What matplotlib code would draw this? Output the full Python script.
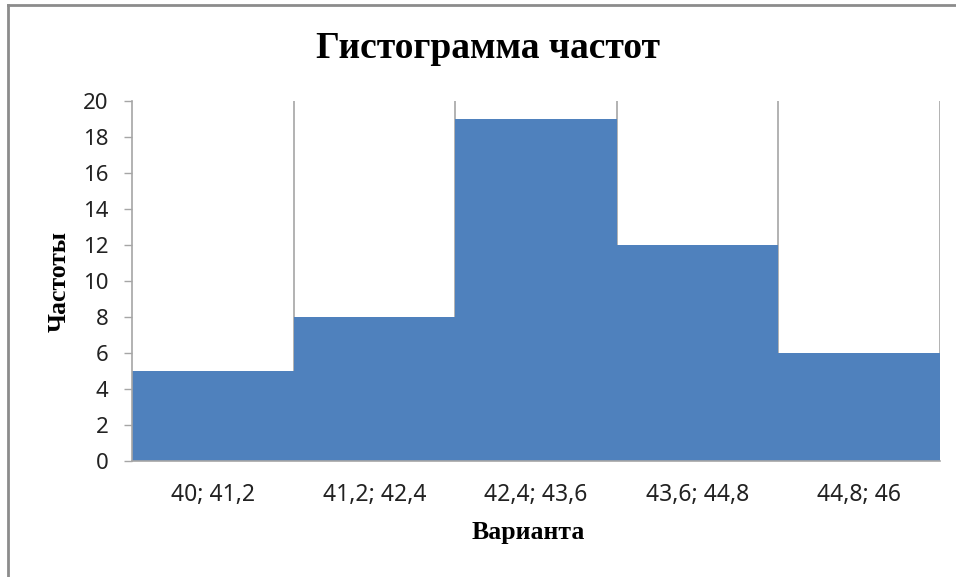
import matplotlib
matplotlib.use("Agg")
import matplotlib.pyplot as plt
from matplotlib.lines import Line2D

# data
intervals = ["40; 41,2", "41,2; 42,4", "42,4; 43,6", "43,6; 44,8", "44,8; 46"]
freqs = [5, 8, 19, 12, 6]
yticks = [0, 2, 4, 6, 8, 10, 12, 14, 16, 18, 20]

bar_color = "#4F81BD"
gray = "#A6A6A6"
serif = ["Liberation Serif", "DejaVu Serif"]
sans = ["Noto Sans", "DejaVu Sans"]

fig = plt.figure(figsize=(9.56, 5.77), dpi=100)
ax = fig.add_axes([132 / 956, 1 - 461 / 577, (940 - 132) / 956, (461 - 101) / 577])

pos = list(range(len(freqs)))
ax.bar(pos, freqs, width=1.0, color=bar_color, zorder=2)

ax.set_xlim(-0.5, len(freqs) - 0.5)
ax.set_ylim(0, 20)
ax.set_yticks(yticks)
ax.set_yticklabels([str(v) for v in yticks], family=sans, fontsize=16, color="#222222")
ax.set_xticks(pos)
ax.set_xticklabels(intervals, family=sans, fontsize=16.5, color="#222222")

# category boundaries as vertical gridlines
ax.set_xticks([p + 0.5 for p in pos], minor=True)
ax.grid(which="minor", axis="x", color=gray, linewidth=1.2, zorder=1)
ax.tick_params(axis="x", which="both", length=0, pad=16)
ax.tick_params(axis="y", length=6, width=1, color=gray, pad=11)

for s in ["top", "right"]:
    ax.spines[s].set_visible(False)
for s in ["left", "bottom"]:
    ax.spines[s].set_color(gray)
    ax.spines[s].set_linewidth(1.2)
    ax.spines[s].set_zorder(3)

fig.text(488 / 956, 1 - 48 / 577, "Гистограмма частот", family=serif, fontweight="bold",
         fontsize=27, ha="center", va="center")
fig.text(528 / 956, 1 - 533 / 577, "Варианта", family=serif, fontweight="bold",
         fontsize=18.5, ha="center", va="center")
fig.text(59 / 956, 1 - 281 / 577, "Частоты", family=serif, fontweight="bold",
         fontsize=18.5, ha="center", va="center", rotation=90)

# outer chart frame (top and left edges visible)
fig.add_artist(Line2D([8 / 956, 1], [1 - 5 / 577, 1 - 5 / 577], color="#8C8C8C", linewidth=2))
fig.add_artist(Line2D([8 / 956, 8 / 956], [0, 1 - 5 / 577], color="#8C8C8C", linewidth=2))

fig.savefig("out.png", dpi=100)
